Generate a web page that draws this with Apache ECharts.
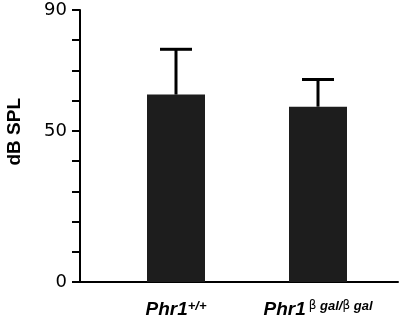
<!DOCTYPE html>
<html>
<head>
<meta charset="utf-8">
<script src="https://cdn.jsdelivr.net/npm/echarts@6/dist/echarts.min.js"></script>
<style>html,body{margin:0;padding:0;background:#fff;}#c{width:400px;height:319px;}</style>
</head>
<body>
<div id="c"></div>
<script>
const genes = ['Phr1', 'Phr1'];
const genotypes = ['+/+', '\u03B2 gal/\u03B2 gal'];
const means = [62, 58];
const errors = [15, 9];
const yTickLabels = [0, 50, 90];
const yName = 'dB SPL';

const categories = genes.map((g, i) => g + ' ' + genotypes[i]);

const chart = echarts.init(document.getElementById('c'), null, {renderer: 'canvas'});
const supStyle = {fontFamily: 'Liberation Sans, Arial, sans-serif', fontWeight: 'bold', fontStyle: 'italic', fontSize: 13, color: '#000', verticalAlign: 'top', padding: [0, 0, 5, 0]};
const option = {
  animation: false,
  backgroundColor: '#fff',
  grid: [
    {left: 80, right: 2, top: 10, bottom: 37},
    {left: 105, right: 11, top: 10, bottom: 37}
  ],
  xAxis: [
    {type: 'value', gridIndex: 0, min: 0, max: 1,
     axisLine: {show: true, lineStyle: {color: '#000', width: 2}},
     axisTick: {show: false}, axisLabel: {show: false}, splitLine: {show: false}},
    {type: 'category', gridIndex: 1, data: categories,
     axisLine: {show: false}, axisTick: {show: false},
     axisLabel: {
       margin: 18,
       interval: 0,
       formatter: function (v, idx) {
         const sup = '{s|' + genotypes[idx].replace(/\u03B2/g, '}{b|\u03B2}{s|') + '}';
         return '{g|' + genes[idx] + '}' + (idx === 1 ? '{sp| }' : '') + sup.replace(/\{s\|\}/g, '');
       },
       rich: {
         g: {fontFamily: 'Liberation Sans, Arial, sans-serif', fontWeight: 'bold', fontStyle: 'italic', fontSize: 19, color: '#000'},
         sp: {fontSize: 11},
         s: supStyle,
         b: Object.assign({}, supStyle, {fontWeight: 'normal', fontStyle: 'normal', fontFamily: 'DejaVu Sans, sans-serif', fontSize: 12})
       }
     }}
  ],
  yAxis: [
    {type: 'value', gridIndex: 0, min: 0, max: 90, interval: 10,
     axisLine: {show: true, lineStyle: {color: '#000', width: 2}},
     axisTick: {show: true, inside: false, length: 8, lineStyle: {color: '#000', width: 2}},
     axisLabel: {
       margin: 13,
       color: '#000',
       fontFamily: 'DejaVu Sans, sans-serif',
       fontSize: 18,
       formatter: function (v) { return yTickLabels.indexOf(v) >= 0 ? String(v) : ''; }
     },
     splitLine: {show: false}},
    {type: 'value', gridIndex: 1, min: 0, max: 90, show: false}
  ],
  graphic: [{
    type: 'text',
    left: 5, top: 98,
    rotation: Math.PI / 2,
    style: {text: yName, fontFamily: 'Liberation Sans, Arial, sans-serif', fontWeight: 'bold', fontSize: 19, fill: '#000'}
  }],
  series: [
    {type: 'bar', xAxisIndex: 1, yAxisIndex: 1, data: means, barWidth: 58,
     itemStyle: {color: '#1d1d1d'}},
    {type: 'custom', xAxisIndex: 1, yAxisIndex: 1,
     data: means.map((m, i) => [i, m, m + errors[i]]),
     z: 1,
     renderItem: function (params, api) {
       const x = api.value(0);
       const lo = api.coord([x, api.value(1)]);
       const hi = api.coord([x, api.value(2)]);
       const cw = 16;
       const st = {stroke: '#000', lineWidth: 3};
       return {type: 'group', children: [
         {type: 'line', shape: {x1: lo[0], y1: lo[1], x2: hi[0], y2: hi[1]}, style: st},
         {type: 'line', shape: {x1: hi[0] - cw, y1: hi[1], x2: hi[0] + cw, y2: hi[1]}, style: st}
       ]};
     }}
  ]
};
chart.setOption(option);
</script>
</body>
</html>
